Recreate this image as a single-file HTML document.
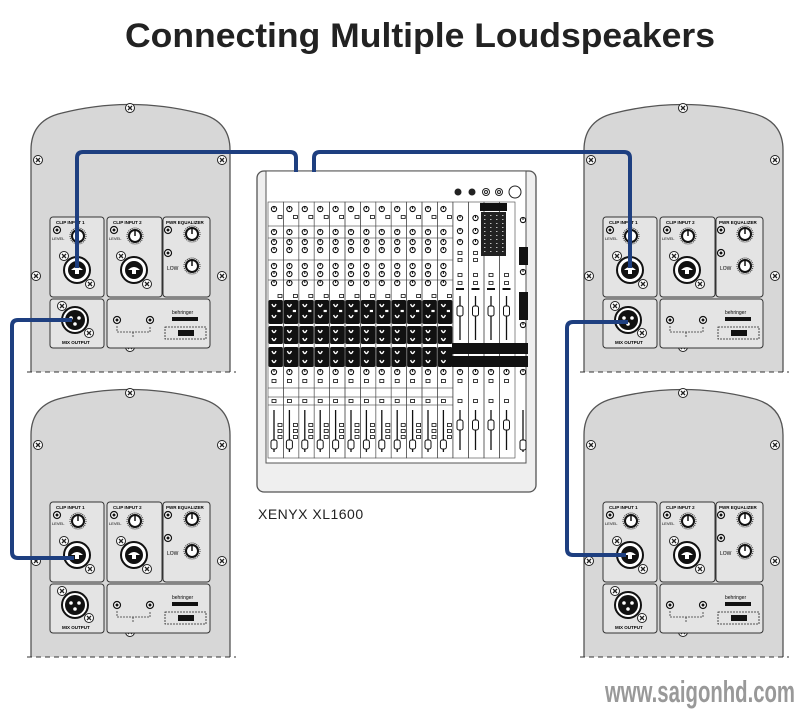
<!DOCTYPE html>
<html><head><meta charset="utf-8"><style>
html,body{margin:0;padding:0;background:#fff;width:800px;height:709px;overflow:hidden}
svg{display:block}
</style></head><body>
<svg id="s" width="800" height="709" viewBox="0 0 800 709" xmlns="http://www.w3.org/2000/svg" font-family="Liberation Sans, sans-serif">
<text x="420" y="47" text-anchor="middle" font-size="34" font-weight="bold" fill="#222" textLength="590" lengthAdjust="spacingAndGlyphs">Connecting Multiple Loudspeakers</text>
<text x="258" y="519" font-size="14" fill="#222" letter-spacing="0.5">XENYX  XL1600</text>
<text x="605" y="702" font-size="31" font-weight="bold" fill="#999" textLength="190" lengthAdjust="spacingAndGlyphs">www.saigonhd.com</text>
<g id="spk"></g>
<g id="mix"></g>
<g id="cab" fill="none" stroke="#1e3f80" stroke-width="4" stroke-linejoin="round">
<path d="M77,268 V158 Q77,152 83,152 H290 Q296,152 296,158 V172"/>
<path d="M314,172 V158 Q314,152 320,152 H624 Q630,152 630,158 V268"/>
<path d="M72,320 H18 Q12,320 12,326 V552 Q12,558 18,558 H74"/>
<path d="M628,322 H573 Q567,322 567,328 V549 Q567,555 573,555 H626"/>
</g>
</svg>
<script>
const NS="http://www.w3.org/2000/svg";
function el(p,t,a,txt){const e=document.createElementNS(NS,t);for(const k in a)e.setAttribute(k,a[k]);if(txt)e.textContent=txt;p.appendChild(e);return e;}
const spk=document.getElementById('spk');
function screw(g,x,y){el(g,'circle',{cx:x,cy:y,r:4.5,fill:'#fff',stroke:'#222','stroke-width':1});el(g,'path',{d:`M${x-2},${y-2}L${x+2},${y+2}M${x+2},${y-2}L${x-2},${y+2}`,stroke:'#222','stroke-width':1.3});}
function knob(g,x,y,r){el(g,'circle',{cx:x,cy:y,r:r+2,fill:'none',stroke:'#333','stroke-width':1,'stroke-dasharray':'1 1'});el(g,'circle',{cx:x,cy:y,r:r,fill:'#fff',stroke:'#111','stroke-width':2});el(g,'line',{x1:x,y1:y-r,x2:x,y2:y,stroke:'#111','stroke-width':1.5});}
function led(g,x,y){el(g,'circle',{cx:x,cy:y,r:3.5,fill:'#fff',stroke:'#111','stroke-width':1.2});el(g,'circle',{cx:x,cy:y,r:1.5,fill:'#111'});}
function combo(g,x,y){el(g,'circle',{cx:x,cy:y,r:13,fill:'#fff',stroke:'#111','stroke-width':2});el(g,'circle',{cx:x,cy:y,r:9,fill:'#111'});el(g,'path',{d:`M${x-6},${y}Q${x},${y-6} ${x+6},${y}L${x+2},${y}V${y+4}H${x-2}V${y}Z`,fill:'#fff'});}
function xlr(g,x,y){el(g,'circle',{cx:x,cy:y,r:13,fill:'#fff',stroke:'#111','stroke-width':2});el(g,'circle',{cx:x,cy:y,r:10,fill:'#111'});[[-4,-2],[4,-2],[0,4]].forEach(d=>el(g,'circle',{cx:x+d[0],cy:y+d[1],r:1.8,fill:'#fff'}));}
function speaker(dx,dy){
 const g=el(spk,'g',{transform:`translate(${dx},${dy})`});
 el(g,'path',{d:'M31,372 L31,150 Q31,120 62,113 Q130,96 198,113 Q230,120 230,150 L230,372',fill:'#d7d7d7',stroke:'#555','stroke-width':1.3});
 el(g,'line',{x1:27,y1:372,x2:236,y2:372,stroke:'#333','stroke-width':1,'stroke-dasharray':'5 4'});
 [[130,108],[38,160],[222,160],[36,276],[222,276],[130,347]].forEach(p=>screw(g,p[0],p[1]));
 [[50,217,54,80],[107,217,55,80],[163,217,47,80],[50,299,54,49],[107,299,103,49]].forEach(r=>el(g,'rect',{x:r[0],y:r[1],width:r[2],height:r[3],rx:3,fill:'#e4e4e4',stroke:'#333','stroke-width':1}));
 el(g,'text',{x:56,y:224,'font-size':4.5,'font-weight':'bold'},'CLIP   INPUT 1');
 el(g,'text',{x:113,y:224,'font-size':4.5,'font-weight':'bold'},'CLIP   INPUT 2');
 el(g,'text',{x:166,y:224,'font-size':4.5,'font-weight':'bold'},'PWR EQUALIZER');
 led(g,57,230);led(g,114,230);led(g,168,230);led(g,168,253);
 knob(g,78,236,6);knob(g,135,236,6);knob(g,192,234,6);knob(g,192,266,6);
 el(g,'text',{x:52,y:240,'font-size':4},'LEVEL');el(g,'text',{x:109,y:240,'font-size':4},'LEVEL');
 el(g,'text',{x:167,y:270,'font-size':5},'LOW');
 combo(g,77,270);combo(g,134,270);
 screw(g,64,256);screw(g,90,284);screw(g,121,256);screw(g,147,284);
 xlr(g,75,320);screw(g,62,306);screw(g,89,333);
 el(g,'text',{x:62,y:344,'font-size':4.5,'font-weight':'bold'},'MIX OUTPUT');
 led(g,117,320);led(g,150,320);
 el(g,'path',{d:'M117,326V332H150V326M133,332V338',fill:'none',stroke:'#333','stroke-width':0.8,'stroke-dasharray':'2 1'});
 el(g,'rect',{x:165,y:327,width:41,height:12,fill:'none',stroke:'#222','stroke-width':0.8,'stroke-dasharray':'2 1'});
 el(g,'rect',{x:178,y:330,width:16,height:6,fill:'#111'});
 el(g,'rect',{x:172,y:317,width:26,height:4,fill:'#111'});
 el(g,'text',{x:172,y:314,'font-size':5},'behringer');
}
speaker(0,0);speaker(0,285);speaker(553,0);speaker(553,285);
const m=document.getElementById('mix');
el(m,'rect',{x:257,y:171,width:279,height:321,rx:7,fill:'#efefef',stroke:'#555','stroke-width':1.3});
el(m,'rect',{x:266,y:171,width:260,height:292,fill:'#fff',stroke:'#555','stroke-width':1});
el(m,'line',{x1:266,y1:463,x2:526,y2:463,stroke:'#555'});
[458,472].forEach(x=>el(m,'circle',{cx:x,cy:192,r:3.5,fill:'#222'}));
[486,499].forEach(x=>{el(m,'circle',{cx:x,cy:192,r:3.5,fill:'#fff',stroke:'#222'});el(m,'circle',{cx:x,cy:192,r:1.5,fill:'#fff',stroke:'#222'});});
el(m,'circle',{cx:515,cy:192,r:6,fill:'#fff',stroke:'#222'});
function mk(x,y){el(m,'circle',{cx:x,cy:y,r:2.6,fill:'#fff',stroke:'#111','stroke-width':1.1});el(m,'line',{x1:x,y1:y-2.6,x2:x,y2:y,stroke:'#111','stroke-width':1});}
function wk(x,y){el(m,'path',{d:`M${x-2},${y-2}Q${x},${y+3} ${x+2},${y-2}`,fill:'none',stroke:'#fff','stroke-width':1.4});}
function btn(x,y){el(m,'rect',{x:x-2,y:y-1.5,width:4,height:3,fill:'#fff',stroke:'#111','stroke-width':0.8});}
for(let i=0;i<12;i++){
 const x=268+i*15.4,cx=x+6;
 el(m,'rect',{x:x,y:202,width:15.4,height:256,fill:'none',stroke:'#444','stroke-width':0.6});
 [226,238,260,280,388,397,405].forEach(y=>el(m,'line',{x1:x,y1:y,x2:x+15.4,y2:y,stroke:'#444','stroke-width':0.6}));
 mk(cx,209);btn(x+12,217);mk(cx,232);mk(cx,242);mk(cx,250);
 mk(cx,266);mk(cx,274);mk(cx,283);btn(x+12,296);
 [[300,324],[326,344],[347,367]].forEach(b=>el(m,'rect',{x:x+0.5,y:b[0],width:14.4,height:b[1]-b[0],rx:1.5,fill:'#111'}));
 wk(cx,306);wk(cx,317);btn(x+11,311);wk(cx,332);wk(cx,340);wk(cx,353);wk(cx,362);
 mk(cx,372);btn(cx,381);btn(cx,401);
 el(m,'line',{x1:cx,y1:410,x2:cx,y2:452,stroke:'#111','stroke-width':1.3});
 el(m,'rect',{x:cx-3,y:440,width:6,height:9,rx:2,fill:'#fff',stroke:'#111'});
 btn(x+12,425);btn(x+12,431);btn(x+12,437);
}
for(let j=0;j<4;j++){
 const x=453+j*15.5,cx=x+7;
 el(m,'rect',{x:x,y:202,width:15.5,height:256,fill:'none',stroke:'#444','stroke-width':0.6});
 if(j<2){mk(cx,218);mk(cx,231);mk(cx,242);btn(cx,253);btn(cx,260);}
 btn(cx,275);btn(cx,283);el(m,'rect',{x:cx-4,y:288,width:8,height:2,fill:'#111'});
 el(m,'line',{x1:cx,y1:296,x2:cx,y2:340,stroke:'#111','stroke-width':1.3});
 el(m,'rect',{x:cx-3,y:306,width:6,height:10,rx:2,fill:'#fff',stroke:'#111'});
 mk(cx,372);btn(cx,381);btn(cx,401);
 el(m,'line',{x1:cx,y1:410,x2:cx,y2:450,stroke:'#111','stroke-width':1.3});
 el(m,'rect',{x:cx-3,y:420,width:6,height:10,rx:2,fill:'#fff',stroke:'#111'});
}
el(m,'rect',{x:480,y:203,width:27,height:8,fill:'#111'});
el(m,'rect',{x:481,y:212,width:25,height:44,fill:'#222'});
for(let r=0;r<10;r++)for(let c=0;c<4;c++)el(m,'rect',{x:484+c*6,y:215+r*4,width:1.5,height:1,fill:'#bbb'});
el(m,'rect',{x:452,y:343,width:76,height:11,fill:'#111'});el(m,'rect',{x:452,y:356,width:76,height:11,fill:'#111'});
el(m,'rect',{x:519,y:247,width:9,height:18,fill:'#111'});el(m,'rect',{x:519,y:292,width:9,height:28,fill:'#111'});
mk(523,220);mk(523,272);mk(523,325);mk(523,372);
el(m,'line',{x1:523,y1:410,x2:523,y2:452,stroke:'#111','stroke-width':1.3});
el(m,'rect',{x:520,y:440,width:6,height:10,rx:2,fill:'#fff',stroke:'#111'});
</script>
</body></html>
